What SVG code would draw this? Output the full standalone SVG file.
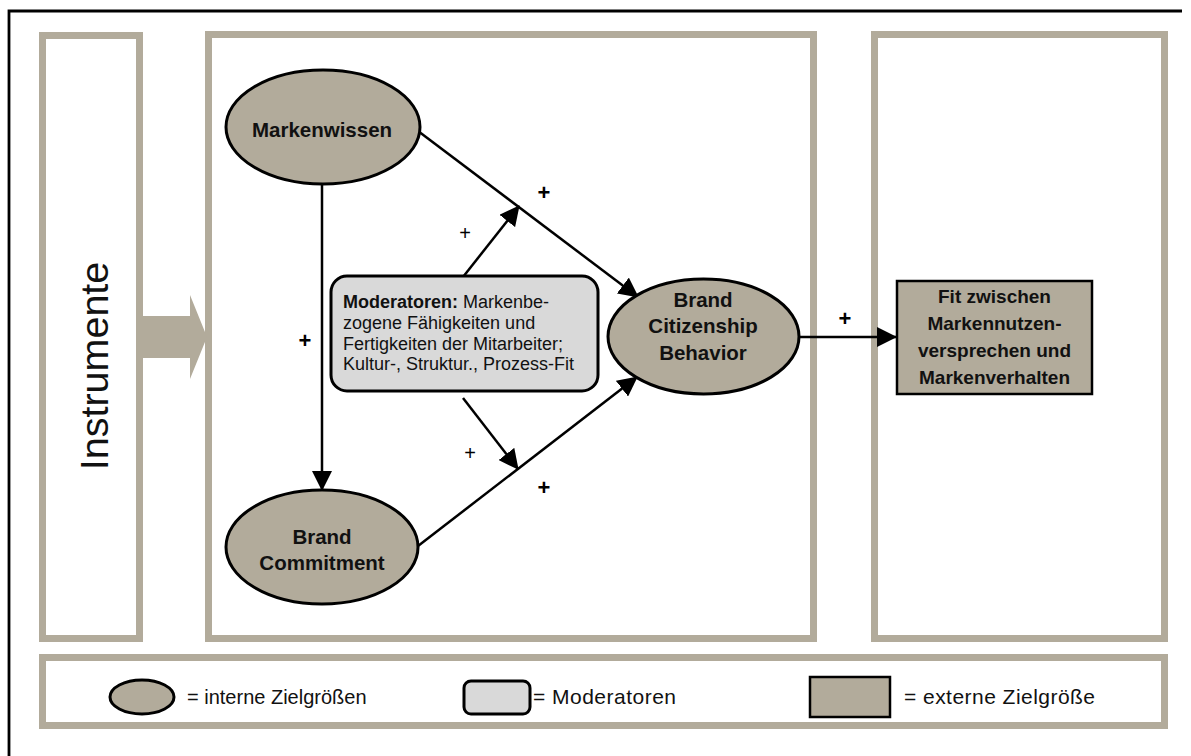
<svg xmlns="http://www.w3.org/2000/svg" width="1191" height="756" viewBox="0 0 1191 756">
  <defs>
    <style>
      .panel { fill: #ffffff; stroke: #b2ab9b; stroke-width: 7; }
      .target { fill: #b2ab9b; stroke: #000; stroke-width: 3; }
      .moder { fill: #d9d9d9; stroke: #000; stroke-width: 3; }
      .ext { fill: #b2ab9b; stroke: #000; stroke-width: 2.5; }
      .edge { fill: none; stroke: #000; stroke-width: 2.5; }
      .lbl { font-family: "Liberation Sans", Arial, sans-serif; font-weight: bold; font-size: 20.5px; fill: #111; text-anchor: middle; }
      .ext-lbl { font-family: "Liberation Sans", Arial, sans-serif; font-weight: bold; font-size: 19px; fill: #111; text-anchor: middle; }
      .mod-lbl { font-family: "Liberation Sans", Arial, sans-serif; font-size: 18px; fill: #111; }
      .plus-b { font-family: "Liberation Sans", Arial, sans-serif; font-weight: bold; font-size: 22px; fill: #000; text-anchor: middle; }
      .plus { font-family: "Liberation Sans", Arial, sans-serif; font-size: 20px; fill: #000; text-anchor: middle; }
      .legend { font-family: "Liberation Sans", Arial, sans-serif; font-size: 20px; fill: #111; }
      .legend-l { font-family: "Liberation Sans", Arial, sans-serif; font-size: 21px; fill: #111; }
    </style>
    <marker id="head" viewBox="0 0 20 20" markerWidth="20" markerHeight="20" refX="19" refY="10" orient="auto" markerUnits="userSpaceOnUse">
      <path d="M0,0 L20,10 L0,20 z" fill="#000"/>
    </marker>
  </defs>

  <!-- outer frame -->
  <path d="M9,756 V11 H1182" fill="none" stroke="#000" stroke-width="2.8"/>

  <!-- column panels -->
  <g id="panel-instrumente">
    <rect class="panel" x="42.5" y="35.5" width="97" height="603"/>
    <text x="0" y="0" transform="translate(108,366) rotate(-90)" font-family="Liberation Sans, Arial, sans-serif" font-size="39.5" fill="#111" text-anchor="middle">Instrumente</text>
  </g>
  <g id="panel-intern">
    <rect class="panel" x="208.5" y="34.5" width="605" height="604"/>
  </g>
  <g id="panel-extern">
    <rect class="panel" x="874.5" y="34.5" width="290" height="604"/>
  </g>

  <!-- block arrow from the instruments column -->
  <g id="instrument-arrow">
    <polygon points="143,316 190,316 190,295 207,337 190,379 190,358 143,358" fill="#b2ab9b"/>
  </g>

  <!-- connectors -->
  <g id="connectors">
    <line class="edge" x1="322" y1="184" x2="322" y2="490" marker-end="url(#head)"/>
    <line class="edge" x1="418" y1="131" x2="638" y2="297" marker-end="url(#head)"/>
    <line class="edge" x1="418" y1="546" x2="637" y2="377" marker-end="url(#head)"/>
    <line class="edge" x1="463" y1="277" x2="519" y2="206" marker-end="url(#head)"/>
    <line class="edge" x1="463" y1="398" x2="518" y2="469" marker-end="url(#head)"/>
    <line class="edge" x1="799" y1="337" x2="896" y2="337" marker-end="url(#head)"/>
    <text class="plus-b" x="544" y="200">+</text>
    <text class="plus" x="465" y="240">+</text>
    <text class="plus-b" x="305" y="348">+</text>
    <text class="plus" x="470" y="460">+</text>
    <text class="plus-b" x="544" y="495">+</text>
    <text class="plus-b" x="845" y="326">+</text>
  </g>

  <g id="markenwissen">
    <ellipse class="target" cx="323" cy="127" rx="97" ry="57"/>
    <text class="lbl" x="322" y="137">Markenwissen</text>
  </g>

  <g id="brand-commitment">
    <ellipse class="target" cx="322" cy="547" rx="96" ry="57"/>
    <text class="lbl" x="322" y="544">Brand</text>
    <text class="lbl" x="322" y="570">Commitment</text>
  </g>

  <g id="brand-citizenship-behavior">
    <ellipse class="target" cx="703.5" cy="336.5" rx="95.5" ry="57.5"/>
    <text class="lbl" x="703" y="307">Brand</text>
    <text class="lbl" x="703" y="333">Citizenship</text>
    <text class="lbl" x="703" y="360">Behavior</text>
  </g>

  <g id="moderatoren">
    <rect class="moder" x="331" y="276" width="267" height="115" rx="16"/>
    <text class="mod-lbl" x="343" y="308"><tspan font-weight="bold">Moderatoren:</tspan> Markenbe-</text>
    <text class="mod-lbl" x="343" y="329">zogene Fähigkeiten und</text>
    <text class="mod-lbl" x="343" y="349.5">Fertigkeiten der Mitarbeiter;</text>
    <text class="mod-lbl" x="343" y="370">Kultur-, Struktur., Prozess-Fit</text>
  </g>

  <g id="fit">
    <rect class="ext" x="897" y="281" width="195" height="113"/>
    <text class="ext-lbl" x="994.5" y="303">Fit zwischen</text>
    <text class="ext-lbl" x="994.5" y="330">Markennutzen-</text>
    <text class="ext-lbl" x="994.5" y="357">versprechen und</text>
    <text class="ext-lbl" x="994.5" y="384">Markenverhalten</text>
  </g>

  <!-- legend -->
  <g id="legend">
    <rect class="panel" x="42.5" y="657.5" width="1122" height="68"/>
    <ellipse class="target" cx="142" cy="697" rx="32" ry="17"/>
    <text class="legend" x="187" y="704">= interne Zielgrößen</text>
    <rect class="moder" x="464" y="681" width="66" height="33" rx="7"/>
    <text class="legend-l" x="533" y="704" textLength="143" lengthAdjust="spacing">= Moderatoren</text>
    <rect class="ext" x="810" y="677" width="80" height="40"/>
    <text class="legend-l" x="904" y="704" textLength="191" lengthAdjust="spacing">= externe Zielgröße</text>
  </g>
</svg>
